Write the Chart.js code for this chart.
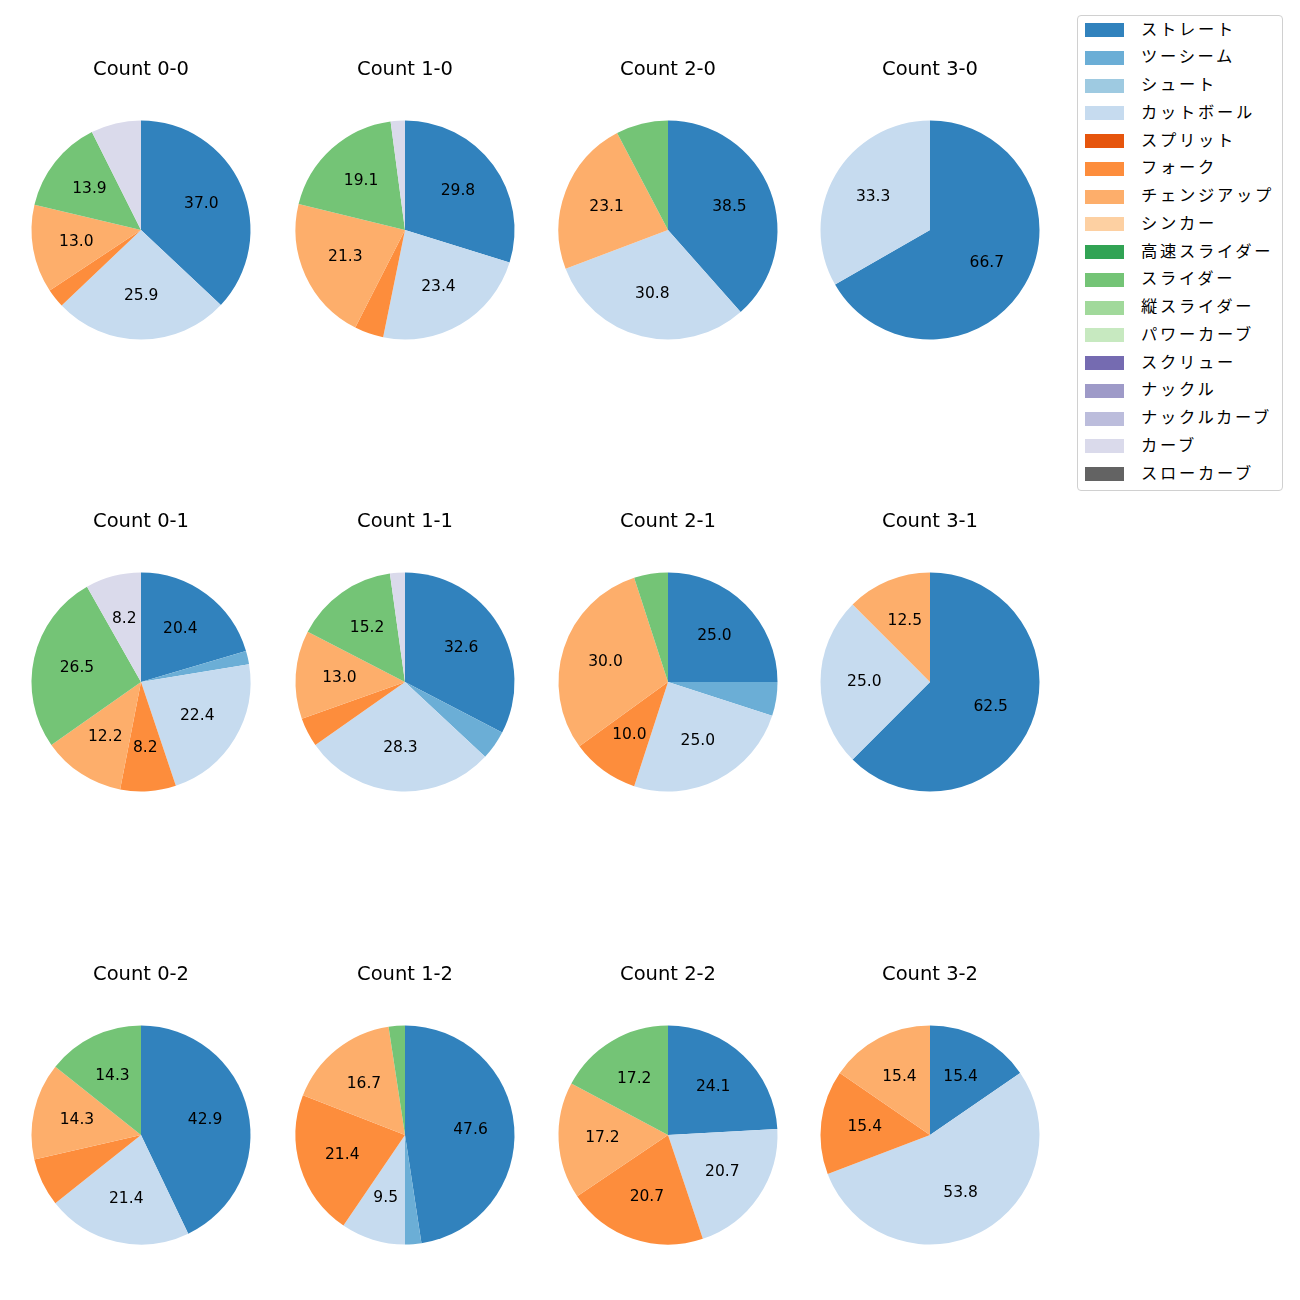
<!DOCTYPE html>
<html>
<head>
<meta charset="utf-8">
<script src="https://cdn.jsdelivr.net/npm/chart.js@4.4.0/dist/chart.umd.min.js"></script>
<style>
  html, body { margin: 0; padding: 0; background: #fff; }
  body { width: 1300px; height: 1300px; position: relative; overflow: hidden; font-family: "Noto Sans CJK JP", "Noto Sans", sans-serif; }
  .pie { position: absolute; width: 262px; height: 360px; }
  #legend { position: absolute; left: 1077px; top: 15px; width: 204px; height: 474px; border: 1px solid #d0d0d0; border-radius: 4px; box-sizing: content-box; }
  .item { position: absolute; left: 0; height: 28px; }
  .sw { position: absolute; left: 7px; top: 7px; width: 39px; height: 14px; }
  .lbl { position: absolute; left: 63px; top: 2.6px; font-size: 16.3px; letter-spacing: 2.7px; color: #000; white-space: nowrap; line-height: 1.2; }
</style>
</head>
<body>
<div id="legend"></div>
<script>
// ---- data ----
const pitchTypes = ['ストレート','ツーシーム','シュート','カットボール','スプリット','フォーク','チェンジアップ','シンカー','高速スライダー','スライダー','縦スライダー','パワーカーブ','スクリュー','ナックル','ナックルカーブ','カーブ','スローカーブ'];
const pitchColors = ['#3182bd','#6baed6','#9ecae1','#c6dbef','#e6550d','#fd8d3c','#fdae6b','#fdd0a2','#31a354','#74c476','#a1d99b','#c7e9c0','#756bb1','#9e9ac8','#bcbddc','#dadaeb','#636363'];
const countTitles = ['Count 0-0','Count 1-0','Count 2-0','Count 3-0','Count 0-1','Count 1-1','Count 2-1','Count 3-1','Count 0-2','Count 1-2','Count 2-2','Count 3-2'];
const count00 = [37.0,0,0,25.9,0,2.8,13.0,0,0,13.9,0,0,0,0,0,7.4,0];
const count10 = [29.8,0,0,23.4,0,4.3,21.3,0,0,19.1,0,0,0,0,0,2.1,0];
const count20 = [38.5,0,0,30.8,0,0,23.1,0,0,7.7,0,0,0,0,0,0,0];
const count30 = [66.7,0,0,33.3,0,0,0,0,0,0,0,0,0,0,0,0,0];
const count01 = [20.4,2.0,0,22.4,0,8.2,12.2,0,0,26.5,0,0,0,0,0,8.2,0];
const count11 = [32.6,4.3,0,28.3,0,4.3,13.0,0,0,15.2,0,0,0,0,0,2.2,0];
const count21 = [25.0,5.0,0,25.0,0,10.0,30.0,0,0,5.0,0,0,0,0,0,0,0];
const count31 = [62.5,0,0,25.0,0,0,12.5,0,0,0,0,0,0,0,0,0,0];
const count02 = [42.9,0,0,21.4,0,7.1,14.3,0,0,14.3,0,0,0,0,0,0,0];
const count12 = [47.6,2.4,0,9.5,0,21.4,16.7,0,0,2.4,0,0,0,0,0,0,0];
const count22 = [24.1,0,0,20.7,0,20.7,17.2,0,0,17.2,0,0,0,0,0,0,0];
const count32 = [15.4,0,0,53.8,0,15.4,15.4,0,0,0,0,0,0,0,0,0,0];
const countValues = [count00,count10,count20,count30,count01,count11,count21,count31,count02,count12,count22,count32];

// ---- layout ----
const colCenters = [141, 404.5, 667.5, 930];
const rowCenters = [229.5, 682, 1134.5];
const TFONT = '"DejaVu Sans", "Noto Sans", sans-serif';

const pctLabels = {
  id: 'pctLabels',
  afterDatasetsDraw(chart) {
    const ctx = chart.ctx;
    const meta = chart.getDatasetMeta(0);
    const data = chart.data.datasets[0].data;
    const total = data.reduce((a, b) => a + b, 0);
    ctx.save();
    ctx.font = '15.5px ' + TFONT;
    ctx.fillStyle = '#000';
    ctx.textAlign = 'center';
    ctx.textBaseline = 'middle';
    meta.data.forEach((arc, i) => {
      const pct = data[i] / total * 100;
      if (pct < 8) return;
      const a = (arc.startAngle + arc.endAngle) / 2;
      const r = arc.outerRadius * 0.6;
      ctx.fillText(data[i].toFixed(1), arc.x + Math.cos(a) * r, arc.y + Math.sin(a) * r);
    });
    ctx.restore();
  }
};

countValues.forEach((vals, k) => {
  const cx = colCenters[k % 4], cy = rowCenters[Math.floor(k / 4)];
  const c = document.createElement('canvas');
  c.className = 'pie';
  c.width = 262; c.height = 360;
  c.style.left = (cx - 131) + 'px';
  c.style.top = (cy - 180) + 'px';
  document.body.appendChild(c);
  new Chart(c, {
    type: 'pie',
    data: {
      labels: pitchTypes,
      datasets: [{ data: vals, backgroundColor: pitchColors, borderWidth: 0 }]
    },
    options: {
      responsive: false,
      animation: false,
      radius: 109.5,
      layout: { padding: { top: 0, bottom: 41.5, left: 0, right: 0 } },
      plugins: {
        legend: { display: false },
        tooltip: { enabled: false },
        title: {
          display: true,
          text: countTitles[k],
          color: '#000',
          font: { family: TFONT, size: 19.5, weight: 'normal', lineHeight: 1.2 },
          padding: { top: 7.8, bottom: 10.3 }
        }
      }
    },
    plugins: [pctLabels]
  });
});

// ---- legend ----
const lg = document.getElementById('legend');
pitchTypes.forEach((name, i) => {
  const it = document.createElement('div');
  it.className = 'item';
  it.style.top = (i * 27.75) + 'px';
  it.style.width = '204px';
  const sw = document.createElement('div');
  sw.className = 'sw';
  sw.style.background = pitchColors[i];
  const lb = document.createElement('div');
  lb.className = 'lbl';
  lb.textContent = name;
  it.appendChild(sw); it.appendChild(lb);
  lg.appendChild(it);
});
</script>
</body>
</html>
